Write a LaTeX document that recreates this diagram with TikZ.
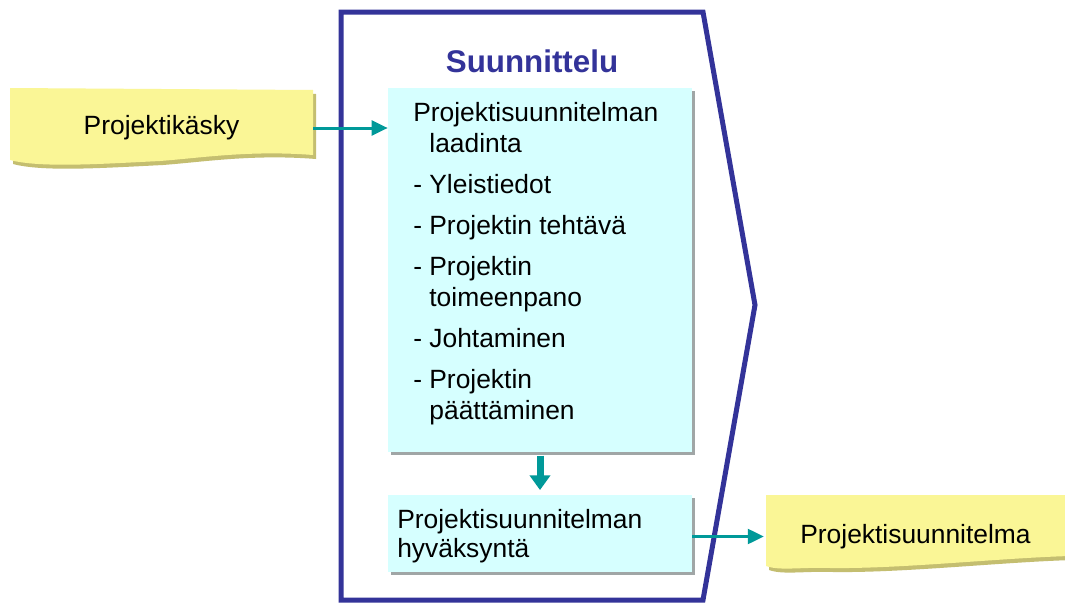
\documentclass[tikz,border=0pt]{standalone}
\usepackage{fontspec}
\setmainfont{Liberation Sans}
\usetikzlibrary{arrows.meta,shadows}
\definecolor{frameblue}{RGB}{51,51,153}
\definecolor{flowteal}{RGB}{0,153,153}
\definecolor{stepcyan}{RGB}{214,255,255}
\definecolor{noteyellow}{RGB}{250,246,150}
\definecolor{noteshade}{RGB}{196,190,112}
\definecolor{boxshade}{RGB}{160,166,166}

\begin{document}
\begin{tikzpicture}[x=0.75pt,y=-0.75pt,
  txt/.style={font=\fontsize{19.8pt}{23.25pt}\selectfont, inner sep=0pt},
  stepbox/.style={fill=stepcyan, inner sep=0pt,
    general shadow={fill=boxshade, shadow xshift=2.25pt, shadow yshift=-2.25pt}},
  notebox/.style={txt, minimum width=227pt, minimum height=58pt},
  flow/.style={draw=flowteal, line width=2.25pt, -{Triangle[length=12pt,width=11pt]}},
  bigflow/.style={draw=flowteal, line width=5.25pt, -{Triangle[length=11pt,width=15pt]}}
]
\useasboundingbox (0,0) rectangle (1065,603);
\fill[white] (0,0) rectangle (1065,603);

% phase frame
\draw[frameblue, line width=3.75pt, line join=miter]
  (341,12) -- (703,12) -- (755,305) -- (703,600) -- (341,600) -- cycle;
\node[font=\bfseries\fontsize{23.5pt}{28pt}\selectfont, text=frameblue, inner sep=0pt]
  (title) at (532,61) {Suunnittelu};

% input note
\fill[noteshade, shift={(3,4)}] (10,88) -- (313,90) -- (313,155)
  .. controls (250,150) and (200,158) .. (160,161)
  .. controls (100,164) and (40,168) .. (10,160) -- cycle;
\fill[noteyellow] (10,88) -- (313,90) -- (313,155)
  .. controls (250,150) and (200,158) .. (160,161)
  .. controls (100,164) and (40,168) .. (10,160) -- cycle;
\node[notebox] (kasky) at (161.5,128) {Projektikäsky};

% output note
\fill[noteshade, shift={(3,4)}] (766,495) -- (1070,495) -- (1070,556)
  .. controls (1000,558) and (900,569) .. (830,568)
  .. controls (800,567) and (780,571) .. (766,566) -- cycle;
\fill[noteyellow] (766,495) -- (1070,495) -- (1070,556)
  .. controls (1000,558) and (900,569) .. (830,568)
  .. controls (800,567) and (780,571) .. (766,566) -- cycle;
\node[notebox] (plan) at (915.5,536.5) {Projektisuunnitelma};

% planning steps
\node[stepbox, minimum width=228pt, minimum height=273pt] (laadinta) at (540,270) {};
\node[txt, anchor=north west, align=left] (steps) at (413,102) {%
  Projektisuunnitelman\\
  \phantom{- }laadinta\\[7.5pt]
  - Yleistiedot\\[7.5pt]
  - Projektin tehtävä\\[7.5pt]
  - Projektin\\
  \phantom{- }toimeenpano\\[7.5pt]
  - Johtaminen\\[7.5pt]
  - Projektin\\
  \phantom{- }päättäminen};

\node[stepbox, minimum width=228pt, minimum height=57.75pt] (hyv) at (540,533.5) {};
\node[txt, anchor=north west, align=left, font=\fontsize{19.8pt}{21.75pt}\selectfont]
  (hyvtext) at (397,509) {Projektisuunnitelman\\hyväksyntä};

% connectors
\draw[flow] (kasky.east) -- (kasky.east -| laadinta.west);
\draw[bigflow, shorten <=2.5pt, shorten >=3.5pt] (laadinta.south) -- (hyv.north);
\draw[flow] (hyv.east |- plan.west) -- (plan.west);
\end{tikzpicture}
\end{document}
